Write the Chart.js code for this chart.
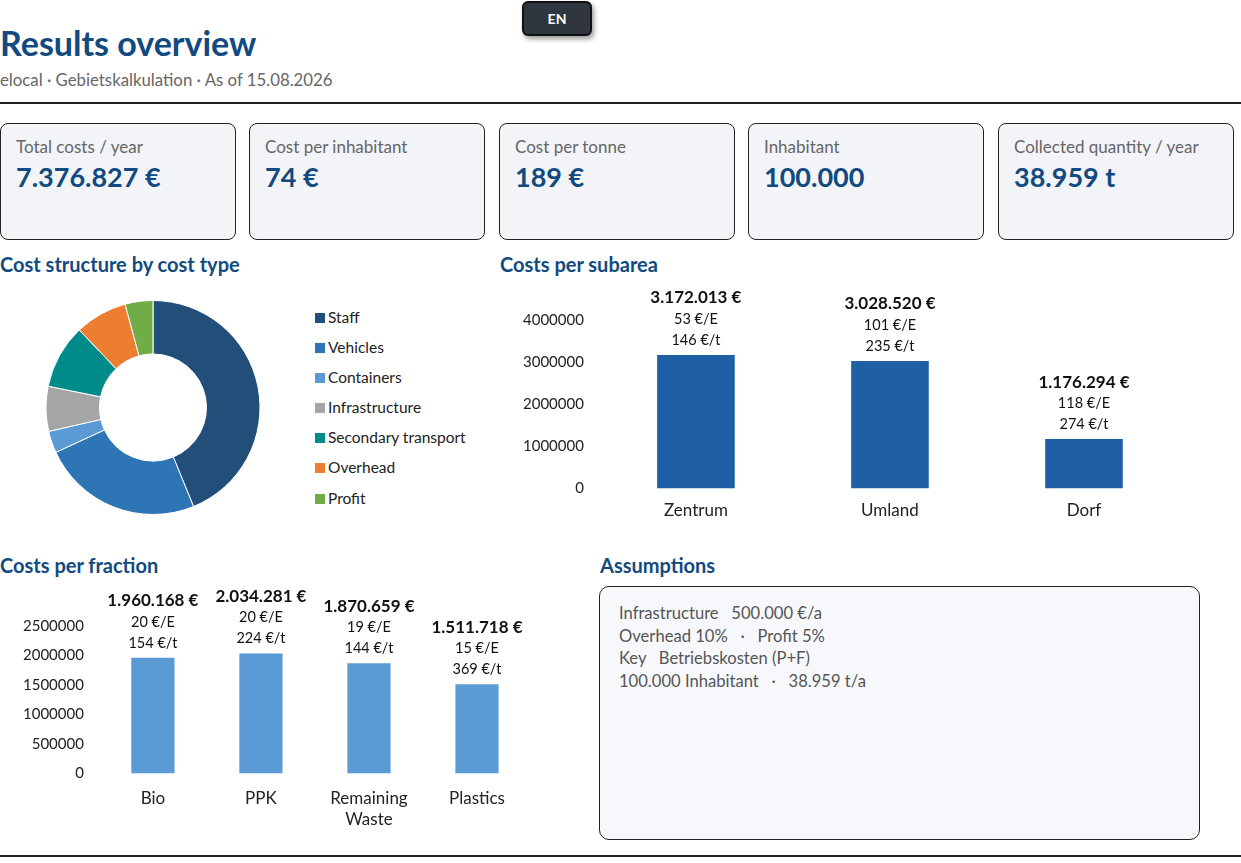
<!DOCTYPE html>
<html>
<head>
<meta charset="utf-8">
<script src="https://cdn.jsdelivr.net/npm/chart.js@4"></script>
<style>
  body { margin: 0; width: 1241px; height: 863px; overflow: hidden; background: #fff; font-family: Lato, "Noto Sans", sans-serif; color: #222; position: relative; }
  .abs { position: absolute; }
  .btn { left: 522px; top: 1px; width: 66px; height: 31px; background: #2f3640; border: 2px solid #111; border-radius: 6px; box-shadow: 2px 3px 5px rgba(0,0,0,.4); color: #fff; font-weight: bold; font-size: 14px; text-align: center; line-height: 31px; }
  h1 { position: absolute; left: 0; top: 22px; margin: 0; font-size: 34px; line-height: 41px; font-weight: bold; color: #114a80; }
  .sub { left: 0; top: 70px; font-size: 16.8px; line-height: 20px; color: #666; }
  .rule { left: 0; width: 1241px; height: 2px; background: #222; }
  .card { top: 123px; width: 236px; height: 117px; background: #f2f4f8; border: 1px solid #222; border-radius: 8px; box-sizing: border-box; }
  .card .lbl { position: absolute; left: 15px; top: 13px; font-size: 17px; line-height: 20px; color: #666; }
  .card .val { position: absolute; left: 15px; top: 37px; font-size: 27px; line-height: 32px; font-weight: bold; color: #114a80; }
  .sec { font-size: 20px; line-height: 24px; font-weight: bold; color: #114a80; }
  .legend { left: 315px; top: 307px; font-size: 15.5px; color: #222; }
  .legend div { height: 30.1px; line-height: 20px; white-space: nowrap; }
  .legend span { display: inline-block; width: 10px; height: 10px; margin-right: 3px; }
  .assump { left: 599px; top: 586px; width: 601px; height: 254px; box-sizing: border-box; background: #f7f8fc; border: 1px solid #222; border-radius: 10px; padding: 15px 19px; font-size: 16.6px; color: #555; line-height: 22.7px; }
</style>
</head>
<body>
<div class="abs btn">EN</div>
<h1>Results overview</h1>
<div class="abs sub">elocal · Gebietskalkulation · As of 15.08.2026</div>
<div class="abs rule" style="top:102px"></div>

<div class="abs card" style="left:0"><div class="lbl">Total costs / year</div><div class="val">7.376.827 €</div></div>
<div class="abs card" style="left:249px"><div class="lbl">Cost per inhabitant</div><div class="val">74 €</div></div>
<div class="abs card" style="left:499px"><div class="lbl">Cost per tonne</div><div class="val">189 €</div></div>
<div class="abs card" style="left:748px"><div class="lbl">Inhabitant</div><div class="val">100.000</div></div>
<div class="abs card" style="left:998px"><div class="lbl">Collected quantity / year</div><div class="val">38.959 t</div></div>

<div class="abs sec" style="left:0;top:252px">Cost structure by cost type</div>
<div class="abs sec" style="left:500px;top:252px">Costs per subarea</div>
<div class="abs sec" style="left:0;top:553px">Costs per fraction</div>
<div class="abs sec" style="left:600px;top:553px">Assumptions</div>

<div class="abs" style="left:0;top:285px;width:306px;height:245px"><canvas id="costTypeChart"></canvas></div>
<div class="abs legend" id="costTypeLegend"></div>
<div class="abs" style="left:500px;top:280px;width:690px;height:253px"><canvas id="subareaChart"></canvas></div>
<div class="abs" style="left:0;top:580px;width:540px;height:266px"><canvas id="fractionChart"></canvas></div>

<div class="abs assump">
  Infrastructure&nbsp;&nbsp; 500.000 €/a<br>
  Overhead 10% &nbsp;&nbsp;·&nbsp;&nbsp; Profit 5%<br>
  Key &nbsp; Betriebskosten (P+F)<br>
  100.000 Inhabitant &nbsp;&nbsp;·&nbsp;&nbsp; 38.959 t/a
</div>
<div class="abs rule" style="top:855px"></div>

<script>
// Cost structure (read from the donut, €)
const costTypes = ['Staff', 'Vehicles', 'Containers', 'Infrastructure', 'Secondary transport', 'Overhead', 'Profit'];
const costTypeValues = [3231000, 1792600, 243400, 500000, 715600, 582800, 309800];
const costTypeColors = ['#214f7a', '#2e75b6', '#5b9bd5', '#a5a5a5', '#008b8b', '#ed7d31', '#70ad47'];

// Subareas
const subareas = ['Zentrum', 'Umland', 'Dorf'];
const subareaCosts = [3172013, 3028520, 1176294];
const subareaPerInhabitant = [53, 101, 118];
const subareaPerTonne = [146, 235, 274];

// Fractions
const fractions = ['Bio', 'PPK', ['Remaining', 'Waste'], 'Plastics'];
const fractionCosts = [1960168, 2034281, 1870659, 1511718];
const fractionPerInhabitant = [20, 20, 19, 15];
const fractionPerTonne = [154, 224, 144, 369];

const fontFamily = 'Lato, "Noto Sans", sans-serif';
Chart.defaults.font.family = fontFamily;
Chart.defaults.font.size = 15;
Chart.defaults.color = '#222';
Chart.defaults.animation = false;

const fmtEuro = v => v.toString().replace(/\B(?=(\d{3})+(?!\d))/g, '.') + ' €';

// draws the three text lines above each bar
function barLabels(perInh, perTonne) {
    return {
        id: 'barLabels',
        afterDatasetsDraw(chart) {
            const ctx = chart.ctx;
            const meta = chart.getDatasetMeta(0);
            const values = chart.data.datasets[0].data;
            ctx.save();
            ctx.textAlign = 'center';
            ctx.textBaseline = 'middle';
            ctx.fillStyle = '#111';
            meta.data.forEach((bar, i) => {
                ctx.font = 'bold 17px ' + fontFamily;
                ctx.fillText(fmtEuro(values[i]), bar.x, bar.y - 57);
                ctx.font = '14.5px ' + fontFamily;
                ctx.fillText(perInh[i] + ' €/E', bar.x, bar.y - 36);
                ctx.fillText(perTonne[i] + ' €/t', bar.x, bar.y - 15);
            });
            ctx.restore();
        }
    };
}

// html legend for the donut
const legendBox = document.getElementById('costTypeLegend');
costTypes.forEach((name, i) => {
    const row = document.createElement('div');
    row.innerHTML = '<span style="background:' + costTypeColors[i] + '"></span>' + name;
    legendBox.appendChild(row);
});

new Chart(document.getElementById('costTypeChart'), {
    type: 'doughnut',
    data: {
        labels: costTypes,
        datasets: [{
            data: costTypeValues,
            backgroundColor: costTypeColors,
            borderColor: '#fff',
            borderWidth: 1
        }]
    },
    options: {
        responsive: true,
        maintainAspectRatio: false,
        cutout: '50%',
        layout: { padding: { top: 15, bottom: 15 } },
        plugins: { legend: { display: false }, tooltip: { enabled: false } }
    }
});

new Chart(document.getElementById('subareaChart'), {
    type: 'bar',
    data: {
        labels: subareas,
        datasets: [{ data: subareaCosts, backgroundColor: '#1e5fa5', barPercentage: 0.4, categoryPercentage: 1 }]
    },
    options: {
        responsive: true,
        maintainAspectRatio: false,
        layout: { padding: { top: 40, left: 8, right: 9, bottom: 0 } },
        plugins: { legend: { display: false }, tooltip: { enabled: false } },
        scales: {
            x: { grid: { display: false, drawTicks: false }, border: { display: false }, ticks: { padding: 12, font: { size: 17 } } },
            y: {
                min: 0, max: 4000000,
                grid: { display: false, drawTicks: false }, border: { display: false },
                ticks: { stepSize: 1000000, padding: 15, callback: v => String(v) }
            }
        }
    },
    plugins: [barLabels(subareaPerInhabitant, subareaPerTonne)]
});

new Chart(document.getElementById('fractionChart'), {
    type: 'bar',
    data: {
        labels: fractions,
        datasets: [{ data: fractionCosts, backgroundColor: '#5b9bd5', barPercentage: 0.4, categoryPercentage: 1 }]
    },
    options: {
        responsive: true,
        maintainAspectRatio: false,
        layout: { padding: { top: 46, left: 8, right: 9, bottom: 2 } },
        plugins: { legend: { display: false }, tooltip: { enabled: false } },
        scales: {
            x: { grid: { display: false, drawTicks: false }, border: { display: false }, ticks: { padding: 14, font: { size: 17, lineHeight: 1.25 } } },
            y: {
                min: 0, max: 2500000,
                grid: { display: false, drawTicks: false }, border: { display: false },
                ticks: { stepSize: 500000, padding: 15, callback: v => String(v) }
            }
        }
    },
    plugins: [barLabels(fractionPerInhabitant, fractionPerTonne)]
});
</script>
</body>
</html>
